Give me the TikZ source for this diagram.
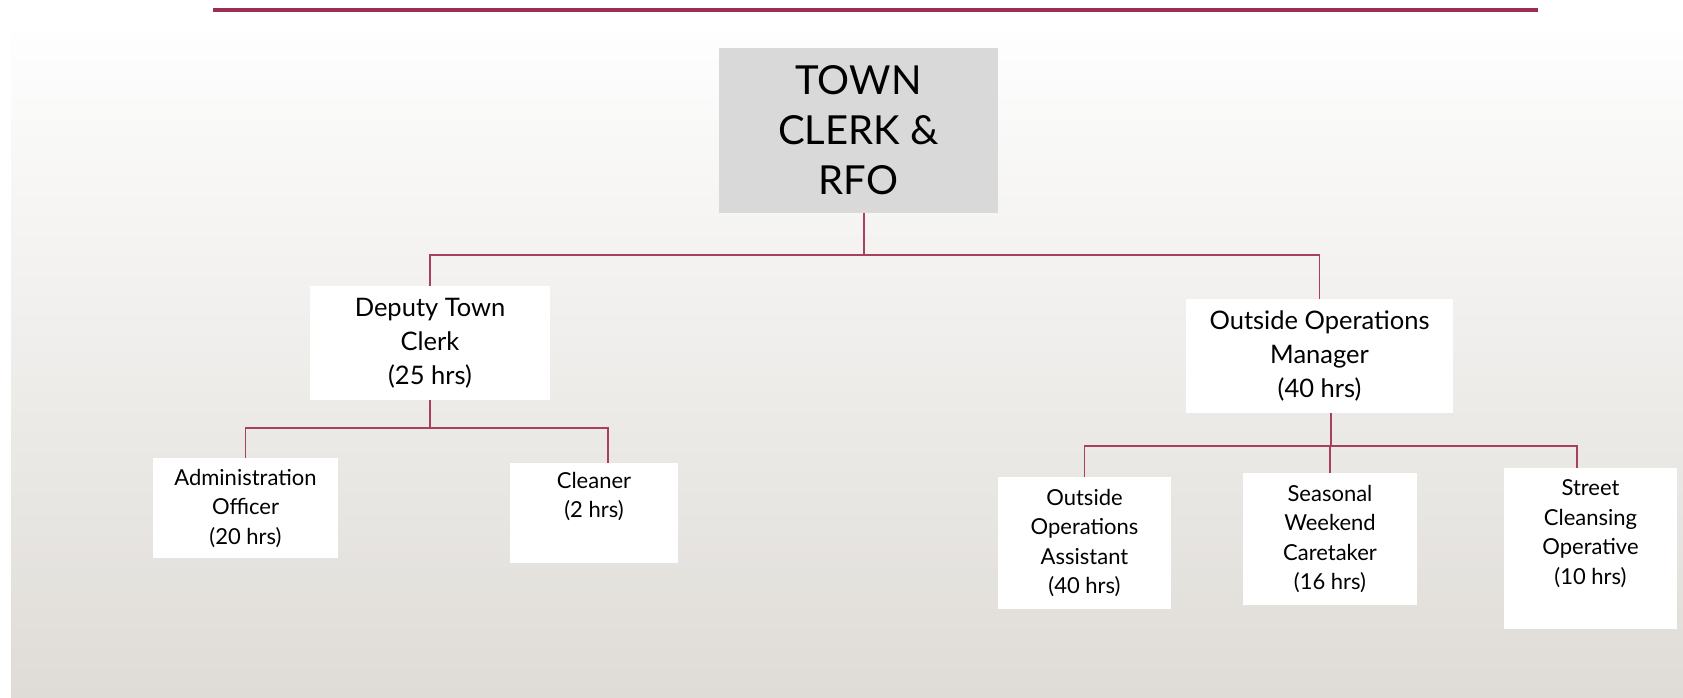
\documentclass[tikz,border=0pt]{standalone}
\usepackage{fontspec}
\setmainfont{Lato}
\usepackage{xcolor}
\definecolor{bannerred}{HTML}{9B2F52}
\definecolor{linkred}{HTML}{A8405C}
\definecolor{headgray}{HTML}{D9D9D9}
\definecolor{bgtop}{HTML}{FEFEFE}
\definecolor{bgbottom}{HTML}{DFDCD7}
\tikzset{
  role/.style={fill=white, align=center, inner sep=0pt,
    font=\fontsize{22}{29.5}\selectfont},
  midrole/.style={role, font=\fontsize{25.5}{34}\selectfont},
  headrole/.style={role, fill=headgray, font=\fontsize{40}{50}\selectfont},
  link/.style={draw=linkred, line width=1.5pt},
}

\begin{document}
\begin{tikzpicture}[x=1pt, y=-1pt]
    \useasboundingbox (0,0) rectangle (1683,697);

    % Fill the background and the banner line
    \shade[top color=bgtop, bottom color=bgbottom] (11,30) rectangle (1683,697);
    \draw[bannerred, line width=4pt] (213,10) -- (1538,10);

    % Head of the council
    \node[headrole, minimum width=279pt, minimum height=165pt] (clerk) at (858.5,130.5) {TOWN\\CLERK \&\\RFO};

    % Second row
    \node[midrole, minimum width=240pt, minimum height=114pt] (deputy) at (430,343) {Deputy Town\\Clerk\\(25 hrs)};
    \node[midrole, minimum width=267pt, minimum height=114pt] (opsmanager) at (1319.5,356) {Outside Operations\\Manager\\(40 hrs)};

    % Third row
    \node[role, minimum width=185pt, minimum height=100pt] (admin) at (245.5,508) {Administration\\Officer\\(20 hrs)};
    \node[role, minimum width=168pt, minimum height=100pt, text depth=36pt] (cleaner) at (594,513) {Cleaner\\(2 hrs)};
    \node[role, minimum width=173pt, minimum height=132pt] (opsassistant) at (1084.5,543) {Outside\\Operations\\Assistant\\(40 hrs)};
    \node[role, minimum width=174pt, minimum height=132pt] (caretaker) at (1330,539) {Seasonal\\Weekend\\Caretaker\\(16 hrs)};
    \node[role, minimum width=173pt, minimum height=161pt, text depth=33pt] (streets) at (1590.5,548.5) {Street\\Cleansing\\Operative\\(10 hrs)};

    % Junctions of the connectors
    \coordinate (topjoin) at (864,255);
    \coordinate (deputyjoin) at (432,428);
    \coordinate (opsjoin) at (1331,446);

    % Draw the connectors
    \draw[link] (topjoin |- clerk.south) -- (topjoin);
    \draw[link] (deputy.north) |- (topjoin) -| (opsmanager.north);
    \draw[link] (deputy.south) -- (deputy.south |- deputyjoin);
    \draw[link] (admin.north) |- (deputyjoin) -| ([xshift=14pt]cleaner.north);
    \draw[link] ([xshift=11.5pt]opsmanager.south) -- (opsjoin);
    \draw[link] (opsassistant.north) |- (opsjoin) -| ([xshift=-13.5pt]streets.north);
    \draw[link] (caretaker.north) -- (caretaker.north |- opsjoin);
\end{tikzpicture}
\end{document}
